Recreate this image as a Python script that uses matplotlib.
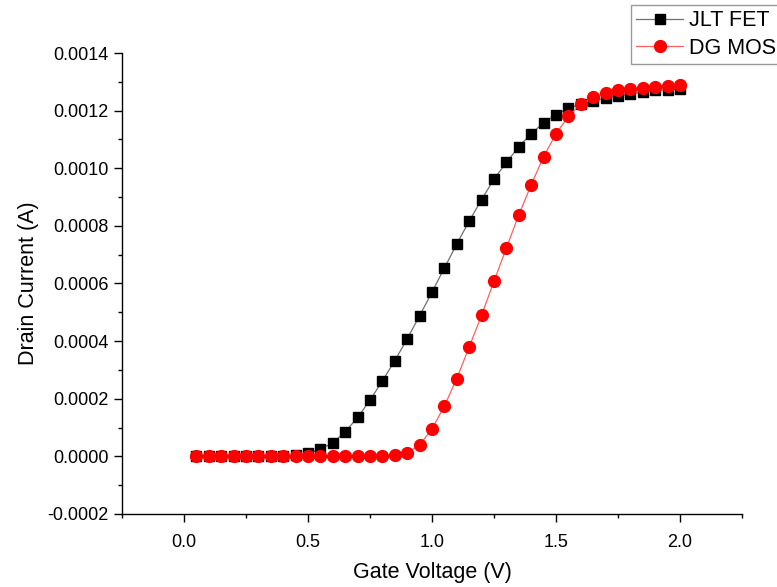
import numpy as np
import matplotlib
matplotlib.use("Agg")
import matplotlib.pyplot as plt
from matplotlib.ticker import MultipleLocator, FormatStrFormatter

plt.rcParams['font.family'] = ['Liberation Sans', 'DejaVu Sans']

gate_voltage = [0.05, 0.10, 0.15, 0.20, 0.25, 0.30, 0.35, 0.40, 0.45, 0.50,
                0.55, 0.60, 0.65, 0.70, 0.75, 0.80, 0.85, 0.90, 0.95, 1.00,
                1.05, 1.10, 1.15, 1.20, 1.25, 1.30, 1.35, 1.40, 1.45, 1.50,
                1.55, 1.60, 1.65, 1.70, 1.75, 1.80, 1.85, 1.90, 1.95, 2.00]

jlt_fet = [0.0, 0.0, 0.0, 0.0, 0.0, 0.0, 0.000001, 0.000002, 0.000004, 0.000010,
           0.000025, 0.000047, 0.000085, 0.000135, 0.000195, 0.000262, 0.000332, 0.000408, 0.000488, 0.000570,
           0.000654, 0.000737, 0.000817, 0.000891, 0.000963, 0.001020, 0.001075, 0.001120, 0.001158, 0.001186,
           0.001208, 0.001222, 0.001232, 0.001245, 0.001250, 0.001258, 0.001265, 0.001270, 0.001273, 0.001275]

dg_mosfet = [0.0, 0.0, 0.0, 0.0, 0.0, 0.0, 0.0, 0.0, 0.0, 0.0,
             0.0, 0.0, 0.0, 0.0, 0.0, 0.000001, 0.000005, 0.000012, 0.000040, 0.000095,
             0.000175, 0.000270, 0.000380, 0.000490, 0.000608, 0.000724, 0.000838, 0.000943, 0.001040, 0.001120,
             0.001180, 0.001224, 0.001248, 0.001260, 0.001270, 0.001275, 0.001280, 0.001282, 0.001285, 0.001290]

fig = plt.figure(figsize=(7.77, 5.87), dpi=100)
ax = fig.add_axes([0.157, 0.1244, 0.798, 0.7853])

l1, = ax.plot(gate_voltage, jlt_fet, color='#707070', lw=0.9, marker='s',
              markersize=7, markerfacecolor='black', markeredgecolor='black',
              label='JLT FET', zorder=3)
l2, = ax.plot(gate_voltage, dg_mosfet, color='#ff6060', lw=0.9, marker='o',
              markersize=8.5, markerfacecolor='red', markeredgecolor='red',
              label='DG MOSFET', zorder=4)

ax.set_xlim(-0.25, 2.25)
ax.set_ylim(-0.0002, 0.0014)
ax.xaxis.set_major_locator(MultipleLocator(0.5))
ax.xaxis.set_minor_locator(MultipleLocator(0.25))
ax.yaxis.set_major_locator(MultipleLocator(0.0002))
ax.yaxis.set_minor_locator(MultipleLocator(0.0001))
ax.xaxis.set_major_formatter(FormatStrFormatter('%.1f'))
ax.yaxis.set_major_formatter(FormatStrFormatter('%.4f'))

for side in ('top', 'right'):
    ax.spines[side].set_visible(False)
for side in ('left', 'bottom'):
    ax.spines[side].set_linewidth(1.0)

ax.tick_params(axis='both', which='major', direction='out', length=5.5, width=1,
               labelsize=13)
ax.tick_params(axis='y', which='major', pad=4)
ax.tick_params(axis='x', which='major', pad=9)
ax.tick_params(axis='both', which='minor', direction='out', length=3, width=1)

ax.set_xlabel('Gate Voltage (V)', fontsize=15.5, labelpad=8)
ax.set_ylabel('Drain Current (A)', fontsize=15.5, labelpad=6)

leg = fig.legend(handles=[l1, l2], loc='upper left',
                 bbox_to_anchor=(631 / 777, 1 - 5 / 587),
                 bbox_transform=fig.transFigure, fontsize=15.5, frameon=True,
                 fancybox=False, edgecolor='#808080', handlelength=2.15,
                 borderpad=0.25, labelspacing=0.3, handletextpad=0.3,
                 borderaxespad=0)
leg.get_frame().set_linewidth(1.0)

fig.savefig('out.png', dpi=100)
